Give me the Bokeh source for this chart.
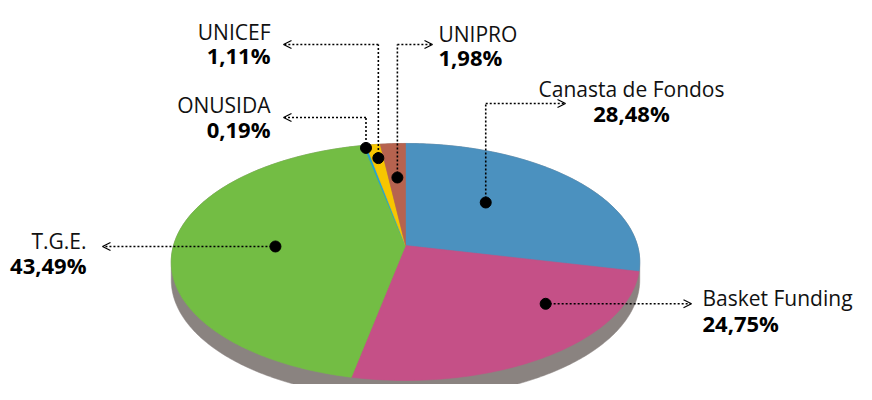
import math
from bokeh.plotting import figure
from bokeh.models import Range1d, Arrow, OpenHead
from bokeh.core.properties import value
from bokeh.embed import file_html
from bokeh.resources import INLINE

# ---- data ----
names = ["Canasta de Fondos", "Basket Funding", "T.G.E.", "ONUSIDA", "UNICEF", "UNIPRO"]
shares = [28.48, 24.75, 43.49, 0.19, 1.11, 1.98]
colors = ["#4b91bf", "#c55087", "#73bd44", "#1fa3dc", "#f7c600", "#b6634f"]
pct_labels = [("%.2f%%" % s).replace(".", ",") for s in shares]

# ---- layout (screen-pixel style coordinates) ----
CX, CY, A, B, K, DEPTH = 405.0, 245.0, 232.0, 116.2, 0.139, 18.0
SIDE = "#8a8380"
FONT = "Open Sans"

def proj(theta_deg, r=1.0):
    t = math.radians(theta_deg)
    u = r * math.sin(t)
    v = -r * math.cos(t)
    d = 1.0 - K * v
    return CX + A * u / d, CY + B * v / d

p = figure(width=856, height=384, output_backend="svg", toolbar_location=None,
           x_range=Range1d(0, 856), y_range=Range1d(384, 0), min_border=0)
p.axis.visible = False
p.grid.visible = False
p.outline_line_color = None
p.background_fill_color = "white"

# side (depth) silhouette
t_right = math.degrees(math.acos(-K))
t_left = 360.0 - t_right
n = 200
sx, sy = [], []
for i in range(n + 1):
    th = t_right + (t_left - t_right) * i / n
    x, y = proj(th)
    sx.append(x); sy.append(y + DEPTH)
for i in range(n + 1):
    th = t_left + (t_right + 360 - t_left) * i / n
    x, y = proj(th)
    sx.append(x); sy.append(y)
p.patch(sx, sy, fill_color=SIDE, line_color=SIDE, line_width=0.5)

# wedges
total = sum(shares)
starts, ends = [], []
acc = 0.0
for s in shares:
    starts.append(acc / total * 360.0)
    acc += s
    ends.append(acc / total * 360.0)

wx, wy = [], []
for a0, a1 in zip(starts, ends):
    steps = max(2, int((a1 - a0) / 1.0) + 2)
    xs, ys = [CX], [CY]
    for i in range(steps + 1):
        x, y = proj(a0 + (a1 - a0) * i / steps)
        xs.append(x); ys.append(y)
    wx.append(xs); wy.append(ys)
p.patches(wx, wy, fill_color=colors, line_color=colors, line_width=0.6)

# leader dots: (fraction within slice angle, radius fraction)
dot_pos = [(0.42, 0.534), (0.305, 0.734), (0.495, 0.56), (0.5, 0.97), (0.57, 0.85), (0.52, 0.638)]
# leader routes: (corner y or None, arrow tip x)
routes = [(103, 565), (None, 691), (None, 102), (117, 283), (44, 283), (44, 432)]
# label layout: (x, name baseline, pct baseline, align)
lab = [(631, 88, 112, "center"), (702, 297, 322, "left"), (86, 240, 264, "right"),
       (270, 104, 128, "right"), (270, 31, 54, "right"), (438, 33, 56, "left")]

dxs, dys = [], []
for i, (fa, fr) in enumerate(dot_pos):
    th = starts[i] + (ends[i] - starts[i]) * fa
    x, y = proj(th, fr)
    dxs.append(x); dys.append(y)
    cy_, tip = routes[i]
    if cy_ is not None:
        p.line([x, x], [y, cy_], line_color="black", line_width=1.6, line_dash="2 2")
        ay = cy_
    else:
        ay = y
    p.add_layout(Arrow(x_start=x, y_start=ay, x_end=tip, y_end=ay,
                       line_color="black", line_width=1.6, line_dash="2 2",
                       end=OpenHead(size=8, line_width=1.2, line_color="black")))
p.scatter(dxs, dys, size=11, color="black")

for i, (lx, ny, py, al) in enumerate(lab):
    p.text([lx], [ny], text=[names[i]], text_font=value(FONT), text_font_size="21px",
           text_align=al, text_baseline="alphabetic", text_color="#111111")
    p.text([lx], [py], text=[pct_labels[i]], text_font=value(FONT), text_font_size="22px",
           text_font_style="bold", text_align=al, text_baseline="alphabetic", text_color="black")

open("out.html", "w").write(file_html(p, INLINE))
